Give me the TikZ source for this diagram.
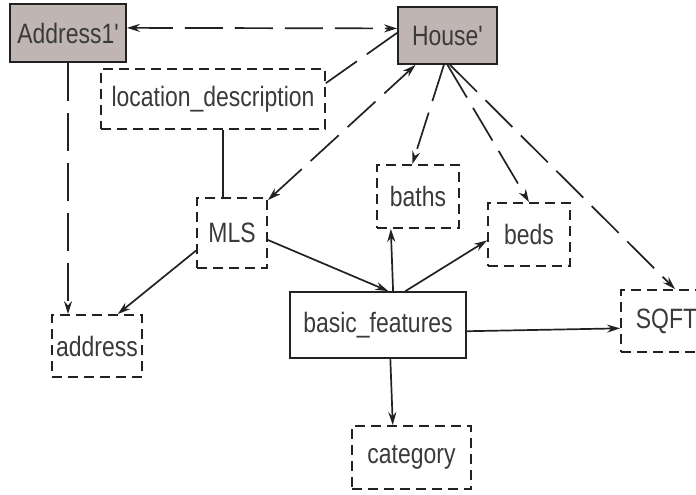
\documentclass[tikz,border=0pt]{standalone}
\usepackage{fontspec}
\setmainfont{Liberation Sans}[Ligatures=TeXOff,FakeStretch=0.82]
\usetikzlibrary{arrows.meta}
\definecolor{shade}{RGB}{191,181,179}
\definecolor{ink}{RGB}{34,34,34}
\definecolor{txt}{RGB}{58,58,58}

\begin{document}
\begin{tikzpicture}[x=0.5pt,y=-0.5pt,>={Stealth[length=6.5pt,width=4pt]},
        every node/.style={font=\fontsize{14}{16}\selectfont,text=txt,inner sep=0pt},
        classbox/.style={draw=ink,line width=0.9pt,fill=shade},
        attrbox/.style={draw=ink,line width=0.9pt,dash pattern=on 5pt off 3pt},
        mainbox/.style={draw=ink,line width=0.9pt},
        link/.style={draw=ink,line width=0.85pt},
        dlink/.style={link,dash pattern=on 19pt off 6pt}]
        \useasboundingbox (0,0) rectangle (696,494);
        \node[classbox, minimum width=58pt, minimum height=29pt] (A) at (68,33) {Address1'};
        \node[classbox, minimum width=49.5pt, minimum height=28.5pt] (H) at (447.5,35.5) {House'};
        \node[attrbox, minimum width=112pt, minimum height=30pt] (L) at (213,99) {location\_description};
        \node[attrbox, minimum width=35pt, minimum height=35pt] (M) at (232,233) {MLS};
        \node[attrbox, minimum width=45pt, minimum height=31pt] (ad) at (97,346) {address};
        \node[mainbox, minimum width=88pt, minimum height=33pt] (B) at (378,325) {basic\_features};
        \node[attrbox, minimum width=41pt, minimum height=31.5pt] (bt) at (418,196.5) {baths};
        \node[attrbox, minimum width=41pt, minimum height=31.5pt] (bd) at (529,234.5) {beds};
        \node[attrbox, minimum width=45.5pt, minimum height=31pt] (S) at (666.5,321) {SQFT};
        \node[attrbox, minimum width=59.5pt, minimum height=31.5pt] (C) at (411.5,457.5) {category};
        % House' and its parts
        \draw[dlink,<->] (A.5) -- (H.172);
        \draw[dlink] (L.8) -- (H.177);
        \draw[dlink,<->] (M) -- (H);
        \draw[dlink,->] (H.-97) -- (bt.100);
        \draw[dlink,->] (H.south) -- (bd.north);
        \draw[dlink,->] (H.-85) -- (S.75);
        \draw[dlink,->] (A.south) -- (A.south |- ad.north);
        % MLS
        \draw[link] ([xshift=5pt]L.south) -- ([xshift=5pt]L.south |- M.north);
        \draw[link,->] (M.206) -- (ad.57);
        \draw[link,->] (M.-11) -- (B.73);
        % basic_features
        \draw[link,->] (B.66) -- (bt.-130);
        \draw[link,->] (B.51) -- (bd.188);
        \draw[link,->] (B.-4.5) -- (S.189);
        \draw[link,->] (B.-70) -- (C.120);
    \end{tikzpicture}
\end{document}
